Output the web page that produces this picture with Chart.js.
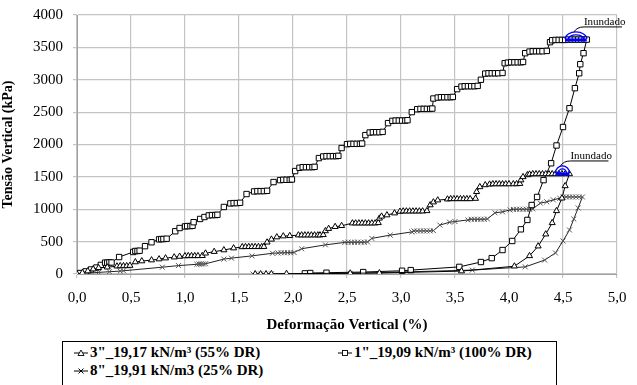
<!DOCTYPE html>
<html>
<head>
<meta charset="utf-8">
<script src="https://cdn.jsdelivr.net/npm/chart.js@4/dist/chart.umd.min.js"></script>
<style>
  html,body{margin:0;padding:0;background:#fff;}
  #wrap{position:relative;width:637px;height:385px;overflow:hidden;}
  #c{position:absolute;left:0;top:0;}
  #legend{position:absolute;left:62px;top:341px;width:495px;height:60px;border:1px solid #000;box-sizing:border-box;
    font-family:'Liberation Serif','Times New Roman',serif;font-weight:bold;font-size:15px;color:#000;}
  .li{position:absolute;white-space:nowrap;display:flex;align-items:center;}
  .li svg{margin-right:2px;}
</style>
</head>
<body>
<div id="wrap">
<canvas id="c" width="637" height="340"></canvas>
<div id="legend"></div>
</div>
<script>
// ---------- data ----------
const xTicks = [0,0.5,1,1.5,2,2.5,3,3.5,4,4.5,5];
const yTicks = [0,500,1000,1500,2000,2500,3000,3500,4000];

const seriesNames = ['3"_19,17 kN/m³ (55% DR)', '1"_19,09 kN/m³ (100% DR)', '8"_19,91 kN/m3 (25% DR)'];

// 3" (triangles)
const triX = [0,0.05,0.1,0.15,0.2,0.28,0.37,0.4,0.43,0.46,0.49,0.54,0.6,0.69,0.76,0.82,0.9,0.95,1.0,1.03,1.06,1.09,1.12,1.16,1.19,1.27,1.36,1.45,1.53,1.56,1.59,1.62,1.65,1.68,1.71,1.73,1.76,1.8,1.85,1.91,1.97,2.05,2.08,2.11,2.14,2.17,2.2,2.23,2.25,2.28,2.3,2.33,2.39,2.45,2.55,2.58,2.61,2.64,2.67,2.7,2.73,2.76,2.79,2.8,2.82,2.87,2.94,2.99,3.02,3.05,3.08,3.11,3.14,3.17,3.2,3.24,3.27,3.3,3.34,3.43,3.46,3.49,3.52,3.55,3.58,3.61,3.64,3.69,3.7,3.73,3.78,3.82,3.85,3.88,3.91,3.94,3.97,4.0,4.04,4.07,4.1,4.11,4.13,4.17,4.19,4.22,4.25,4.28,4.31,4.34,4.37,4.4,4.43,4.46,4.49,4.52,4.56,
  4.52,4.49,4.44,4.4,4.34,4.27,4.19,4.05,3.56,2.8,2.53,1.94,1.8,1.75,1.7,1.65];
const triY = [0,20,45,75,95,105,120,125,125,125,130,185,200,215,230,245,260,270,278,280,280,280,280,282,320,345,370,400,418,420,420,420,420,420,420,422,490,535,570,585,590,600,600,600,600,600,600,600,600,605,665,700,730,745,785,785,785,785,785,785,785,785,790,860,890,910,940,965,970,970,970,970,970,970,970,975,1065,1110,1140,1155,1160,1160,1160,1160,1160,1160,1160,1165,1270,1345,1375,1385,1390,1390,1390,1390,1390,1390,1390,1390,1395,1450,1500,1530,1540,1545,1545,1545,1545,1545,1545,1545,1545,1545,1545,1545,1545,
  1360,1170,975,790,615,430,280,120,45,15,12,5,2,0,0,0];

// 1" (squares)
const sqX = [0,0.03,0.08,0.13,0.18,0.22,0.26,0.28,0.3,0.32,0.39,0.52,0.54,0.56,0.58,0.63,0.69,0.76,0.78,0.8,0.83,0.91,0.95,1.0,1.02,1.05,1.07,1.08,1.14,1.18,1.22,1.25,1.28,1.3,1.36,1.42,1.45,1.48,1.51,1.57,1.64,1.67,1.7,1.73,1.76,1.82,1.88,1.91,1.94,1.97,1.99,2.02,2.06,2.09,2.12,2.15,2.18,2.2,2.24,2.28,2.31,2.34,2.37,2.4,2.42,2.45,2.5,2.53,2.56,2.59,2.62,2.64,2.67,2.71,2.74,2.77,2.8,2.83,2.88,2.92,2.95,2.98,3.01,3.04,3.06,3.1,3.15,3.18,3.21,3.24,3.27,3.29,3.3,3.34,3.37,3.4,3.43,3.46,3.48,3.52,3.56,3.59,3.62,3.65,3.68,3.71,3.74,3.78,3.81,3.84,3.87,3.9,3.94,3.96,3.99,4.02,4.05,4.08,4.11,4.13,4.15,4.19,4.22,4.25,4.28,4.31,4.35,4.38,4.4,4.43,4.46,4.49,4.52,4.55,4.58,4.61,4.64,4.67,4.7,4.72,
  4.69,4.66,4.65,4.61,4.56,4.5,4.44,4.39,4.32,4.26,4.21,4.17,4.11,4.03,3.94,3.84,3.74,3.54,3.09,3.01,2.65,2.31,2.16,2.11];
const sqY = [0,15,40,70,100,140,175,175,180,178,262,340,355,355,360,430,490,535,540,540,545,660,710,735,740,740,745,800,850,880,905,910,910,915,1035,1090,1095,1095,1100,1235,1275,1280,1280,1280,1285,1420,1450,1455,1455,1455,1460,1590,1640,1650,1650,1650,1650,1655,1790,1815,1820,1820,1820,1820,1825,1945,2005,2010,2010,2010,2010,2015,2145,2185,2190,2190,2190,2195,2330,2365,2370,2370,2370,2370,2375,2500,2545,2550,2550,2550,2550,2555,2710,2725,2730,2730,2730,2730,2735,2855,2895,2900,2900,2900,2900,2905,3000,3095,3100,3100,3100,3100,3105,3255,3265,3270,3270,3270,3270,3275,3410,3435,3440,3440,3440,3440,3445,3580,3610,3615,3615,3615,3615,3620,3620,3620,3620,3620,3620,3620,
  3410,3240,3100,2870,2560,2270,1985,1710,1450,1190,1065,835,690,510,370,245,185,110,60,50,30,20,15,10];

// 8" (crosses)
const crX = [0,0.1,0.2,0.3,0.4,0.43,0.79,0.94,1.11,1.13,1.15,1.17,1.19,1.36,1.43,1.62,1.81,1.86,1.89,1.92,1.95,1.98,2.01,2.08,2.3,2.48,2.51,2.54,2.57,2.6,2.63,2.66,2.69,2.73,2.9,3.1,3.12,3.15,3.18,3.21,3.24,3.27,3.3,3.36,3.45,3.5,3.62,3.65,3.68,3.71,3.74,3.77,3.8,3.87,3.94,4.01,4.04,4.07,4.1,4.13,4.16,4.19,4.22,4.29,4.35,4.41,4.47,4.5,4.53,4.56,4.59,4.62,4.65,4.68,
  4.64,4.6,4.56,4.5,4.43,4.33,4.15,3.66,2.53,1.8,1.7,1.63];
const crY = [0,12,25,35,45,50,105,130,150,155,155,155,158,230,245,280,320,325,328,328,330,330,332,390,450,488,490,490,490,490,490,490,495,550,600,650,665,665,665,665,665,665,670,755,800,810,835,845,845,845,845,845,850,945,960,990,998,1000,1000,1000,1000,1000,1005,1095,1115,1145,1170,1188,1190,1190,1190,1190,1190,1190,
  1020,850,680,510,325,215,110,60,10,2,0,0];

// "Inundado" (inundation) stage ranges
const inundX = [[4.52, 4.72], [4.43, 4.56]];
const inundY = [3615, 1545];
const inundLabel = 'Inundado';

// ---------- chart ----------
const pts = (xs, ys) => xs.map((x, i) => ({x, y: ys[i]}));
const FONT = "'Liberation Serif','Times New Roman',serif";

const inundPlugin = {
  id: 'inund',
  afterDatasetsDraw(chart) {
    const {ctx, scales: {x, y}} = chart;
    ctx.save();
    inundX.forEach((r, i) => {
      const x0 = x.getPixelForValue(r[0]), x1 = x.getPixelForValue(r[1]);
      const py = y.getPixelForValue(inundY[i]);
      const cx = (x0 + x1) / 2;
      ctx.strokeStyle = '#0000ff';
      ctx.lineWidth = 3;
      ctx.beginPath(); ctx.moveTo(x0, py); ctx.lineTo(x1, py); ctx.stroke();
      ctx.lineWidth = 1.3;
      ctx.beginPath();
      ctx.ellipse(cx, py - 1, (x1 - x0) / 2, 7, 0, Math.PI, 2 * Math.PI);
      ctx.stroke();
      ctx.beginPath();
      ctx.ellipse(cx, py - 1, (x1 - x0) / 2 - 3, 4, 0, Math.PI, 2 * Math.PI);
      ctx.stroke();
      const uy = py - 13;
      ctx.strokeStyle = '#000';
      ctx.lineWidth = 1;
      ctx.beginPath();
      ctx.moveTo(cx - 2, py - 8);
      ctx.quadraticCurveTo(cx + 1, uy, cx + 8, uy);
      ctx.lineTo(cx + 46, uy);
      ctx.stroke();
      ctx.fillStyle = '#000';
      ctx.font = '11px ' + FONT;
      ctx.textAlign = 'left';
      ctx.textBaseline = 'alphabetic';
      ctx.fillText(inundLabel, cx + 8, uy - 2);
    });
    ctx.restore();
  }
};

new Chart(document.getElementById('c'), {
  type: 'scatter',
  data: {
    datasets: [
      {label: seriesNames[0], data: pts(triX, triY), showLine: true, borderColor: '#000', borderWidth: 1,
       pointStyle: 'triangle', pointRadius: 3.5, pointBackgroundColor: '#fff', pointBorderColor: '#000', pointBorderWidth: 1, tension: 0},
      {label: seriesNames[1], data: pts(sqX, sqY), showLine: true, borderColor: '#000', borderWidth: 1,
       pointStyle: 'rect', pointRadius: 3.8, pointBackgroundColor: '#fff', pointBorderColor: '#000', pointBorderWidth: 1, tension: 0},
      {label: seriesNames[2], data: pts(crX, crY), showLine: true, borderColor: '#222', borderWidth: 1,
       pointStyle: 'crossRot', pointRadius: 3.5, pointBorderColor: '#555', pointBorderWidth: 1, tension: 0}
    ]
  },
  options: {
    responsive: false,
    animation: false,
    layout: {padding: {top: 15, right: 20, left: 0, bottom: 0}},
    plugins: {legend: {display: false}, tooltip: {enabled: false}},
    scales: {
      x: {
        type: 'linear', min: 0, max: 5,
        afterBuildTicks: s => { s.ticks = xTicks.map(v => ({value: v})); },
        afterFit: s => { s.height = 66; s.paddingLeft = 0; s.paddingRight = 0; },
        ticks: {font: {family: FONT, size: 15}, color: '#000', padding: 11,
                callback: v => v.toFixed(1).replace('.', ',')},
        grid: {color: '#c4c4c4', lineWidth: 1.2, tickLength: 4},
        border: {color: '#a0a0a0'},
        title: {display: true, text: 'Deformação Vertical (%)', color: '#000',
                font: {family: FONT, size: 15, weight: 'bold'}, padding: {top: 2, bottom: 6}}
      },
      y: {
        type: 'linear', min: 0, max: 4000,
        afterBuildTicks: s => { s.ticks = yTicks.map(v => ({value: v})); },
        afterFit: s => { s.width = 77; s.paddingTop = 0; s.paddingBottom = 0; },
        ticks: {font: {family: FONT, size: 15}, color: '#000', padding: 10, callback: v => String(v)},
        grid: {color: '#c4c4c4', lineWidth: 1.2, tickLength: 4},
        border: {color: '#a0a0a0'},
        title: {display: true, text: 'Tensão Vertical (kPa)', color: '#000',
                font: {family: FONT, size: 14, weight: 'bold'}, padding: {top: 0, bottom: 4}}
      }
    }
  },
  plugins: [inundPlugin]
});

// ---------- legend (HTML) ----------
const legendSpecs = [
  {name: seriesNames[0], mark: 'tri', left: 11, top: 2},
  {name: seriesNames[1], mark: 'sq', left: 275, top: 2},
  {name: seriesNames[2], mark: 'x', left: 11, top: 20}
];
function markSvg(m) {
  let s = '<svg width="14" height="10" viewBox="0 0 14 10"><line x1="0" y1="5" x2="14" y2="5" stroke="#000" stroke-width="1"/>';
  if (m === 'tri') s += '<polygon points="7,2 10,7.5 4,7.5" fill="#fff" stroke="#000" stroke-width="0.9"/>';
  if (m === 'sq') s += '<rect x="4.5" y="2.5" width="5" height="5" fill="#fff" stroke="#000" stroke-width="0.9"/>';
  if (m === 'x') s += '<path d="M4.5,2.5 L9.5,7.5 M9.5,2.5 L4.5,7.5" stroke="#000" stroke-width="1"/>';
  return s + '</svg>';
}
const lg = document.getElementById('legend');
legendSpecs.forEach(sp => {
  const d = document.createElement('div');
  d.className = 'li';
  d.style.left = sp.left + 'px';
  d.style.top = sp.top + 'px';
  d.innerHTML = markSvg(sp.mark) + '<span></span>';
  d.querySelector('span').textContent = sp.name;
  lg.appendChild(d);
});
</script>
</body>
</html>
